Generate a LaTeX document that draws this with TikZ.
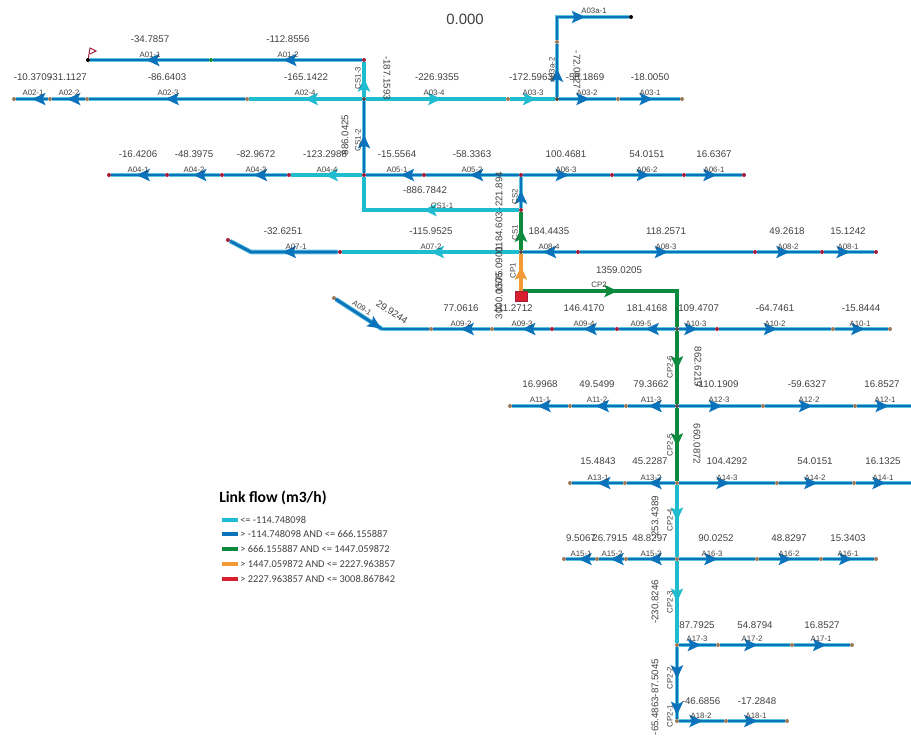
\documentclass[tikz,border=0pt]{standalone}
\usepackage{fontspec}
\setmainfont{Liberation Sans}
\newfontfamily\legendfont{Carlito}
\usetikzlibrary{arrows.meta,decorations.markings,backgrounds}
\definecolor{linkblue}{HTML}{0B72BC}
\definecolor{linkhalo}{HTML}{5CC4DC}
\definecolor{linkcyan}{HTML}{1FBCCF}
\definecolor{linkgreen}{HTML}{0E8A3F}
\definecolor{linkorange}{HTML}{F39A35}
\definecolor{linkred}{HTML}{D8202E}
\definecolor{jred}{HTML}{A31C3A}
\definecolor{jtan}{HTML}{9A7A58}
\definecolor{inktext}{HTML}{404040}
\tikzset{
  midarrow/.style={postaction={decorate,decoration={markings,mark=at position #1 with {\arrow{Stealth[length=10pt,width=9pt,inset=2pt]}}}}},
  bluelink/.style={color=linkblue,line width=2.1pt,preaction={draw,linkhalo,line width=3.4pt}},
  cyanlink/.style={color=linkcyan,line width=2.7pt},
  greenlink/.style={color=linkgreen,line width=2.6pt},
  orangelink/.style={color=linkorange,line width=2.7pt},
  redlink/.style={color=linkred,line width=2.7pt},
  jn/.style={circle,fill=#1,inner sep=0pt,minimum size=3pt},
  jn/.default=jred,
  valtext/.style={text=inktext,inner sep=0pt,font=\fontsize{7.3}{8}\selectfont},
  labtext/.style={text=inktext,inner sep=0pt,font=\fontsize{5.9}{7}\selectfont},
  legtext/.style={text=inktext,inner sep=0pt,anchor=west,font=\legendfont\fontsize{7.8}{9}\selectfont}
}
\begin{document}
\begin{tikzpicture}[x=.75pt,y=-.75pt]
  \useasboundingbox (0,0) rectangle (911,736);
  \node[jn=black] (p1a) at (88,60) {};
  \node[jn=linkgreen] (p1b) at (211,60) {};
  \node[jn] (p1c) at (364,60) {};
  \node[jn=jtan] (p2a) at (14,99) {};
  \node[jn=jtan] (p2b) at (50,99) {};
  \node[jn=jtan] (p2c) at (87,99) {};
  \node[jn=jtan] (p2d) at (247,99) {};
  \node[jn=black!70] (p2e) at (364,99) {};
  \node[jn=jtan] (p2f) at (508,99) {};
  \node[jn=black!70] (p2g) at (557,99) {};
  \node[jn=jtan] (p2h) at (618,99) {};
  \node[jn=jtan] (p2i) at (682,99) {};
  \node[jn=jtan] (q1) at (557,42) {};
  \node[jn=black] (q3) at (631,17) {};
  \node[jn] (p4a) at (109,175) {};
  \node[jn] (p4b) at (167,175) {};
  \node[jn] (p4c) at (222,175) {};
  \node[jn] (p4d) at (289,175) {};
  \node[jn] (p4e) at (364,175) {};
  \node[jn] (p4f) at (424,175) {};
  \node[jn] (p4g) at (521,175) {};
  \node[jn] (p4h) at (612,175) {};
  \node[jn] (p4i) at (684,175) {};
  \node[jn] (p4j) at (744,175) {};
  \node[jn] (m) at (521,210) {};
  \node[jn] (p5a) at (228,240) {};
  \coordinate (c5) at (251,252);
  \node[jn] (p5b) at (340,252) {};
  \node[jn=black!70] (p5c) at (521,252) {};
  \node[jn] (p5d) at (578,252) {};
  \node[jn] (p5e) at (755,252) {};
  \node[jn] (p5f) at (822,252) {};
  \node[jn] (p5g) at (876,252) {};
  \node[draw=jred,fill=linkred,inner sep=0pt,minimum width=9pt,minimum height=7.5pt] (src) at (521,296) {};
  \coordinate (srcout) at (523,291);
  \node[jn=jtan] (p9a) at (334,298) {};
  \coordinate (c9) at (382,329);
  \node[jn=jtan] (p9b) at (431,329) {};
  \node[jn=jtan] (p9c) at (492,329) {};
  \node[jn] (p9d) at (552,329) {};
  \node[jn] (p9e) at (617,329) {};
  \node[jn=black!70] (p9g) at (677,329) {};
  \node[jn] (p9h) at (717,329) {};
  \node[jn=jtan] (p9i) at (833,329) {};
  \node[jn=jtan] (p9j) at (890,329) {};
  \node[jn=jtan] (p11a) at (510,406) {};
  \node[jn=jtan] (p11b) at (570,406) {};
  \node[jn=jtan] (p11c) at (626,406) {};
  \node[jn=black!70] (p11d) at (677,406) {};
  \node[jn=jtan] (p11e) at (763,406) {};
  \node[jn=jtan] (p11f) at (855,406) {};
  \coordinate (p11g) at (911,406);
  \node[jn=jtan] (p13a) at (570,483) {};
  \node[jn=jtan] (p13b) at (625,483) {};
  \node[jn=jtan] (p13c) at (677,483) {};
  \node[jn=jtan] (p13d) at (777,483) {};
  \node[jn=jtan] (p13e) at (854,483) {};
  \coordinate (p13f) at (911,483);
  \node[jn=jtan] (p15a) at (564,559) {};
  \node[jn=jtan] (p15b) at (597,559) {};
  \node[jn=jtan] (p15c) at (626,559) {};
  \node[jn=jtan] (p15d) at (677,559) {};
  \node[jn=jtan] (p15e) at (757,559) {};
  \node[jn=jtan] (p15f) at (821,559) {};
  \node[jn=jtan] (p15g) at (876,559) {};
  \node[jn=jtan] (p17a) at (677,645) {};
  \node[jn=jtan] (p17b) at (718,645) {};
  \node[jn=jtan] (p17c) at (792,645) {};
  \node[jn=jtan] (p17d) at (852,645) {};
  \coordinate (r) at (677,695);
  \node[jn=jtan] (p18a) at (677,721) {};
  \node[jn=jtan] (p18b) at (726,721) {};
  \node[jn=jtan] (p18c) at (787,721) {};
  \begin{scope}[on background layer]
    \draw[bluelink,midarrow=.53] (p1c) -- (p1b);
    \draw[bluelink,midarrow=.53] (p1b) -- (p1a);
    \draw[bluelink,midarrow=.5] (p2b) -- (p2a);
    \draw[bluelink,midarrow=.55] (p2c) -- (p2b);
    \draw[bluelink,midarrow=.51] (p2d) -- (p2c);
    \draw[cyanlink,midarrow=.51] (p2e) -- (p2d);
    \draw[cyanlink,midarrow=.54] (p2e) -- (p2f);
    \draw[cyanlink,midarrow=.59] (p2f) -- (p2g);
    \draw[bluelink,midarrow=.54] (p2g) -- (p2h);
    \draw[bluelink,midarrow=.55] (p2h) -- (p2i);
    \draw[bluelink,midarrow=.54] (p2g) -- (q1);
    \draw[bluelink,midarrow=.54] (q1) |- (q3);
    \draw[cyanlink,midarrow=.54] (p2e) -- (p1c);
    \draw[bluelink,midarrow=.53] (p4e) -- (p2e);
    \draw[cyanlink,midarrow=.51] (m) -| (p4e);
    \draw[bluelink,midarrow=.57] (m) -- (p4g);
    \draw[bluelink,midarrow=.53] (p4b) -- (p4a);
    \draw[bluelink,midarrow=.53] (p4c) -- (p4b);
    \draw[bluelink,midarrow=.53] (p4d) -- (p4c);
    \draw[cyanlink,midarrow=.53] (p4e) -- (p4d);
    \draw[bluelink,midarrow=.38] (p4f) -- (p4e);
    \draw[bluelink,midarrow=.53] (p4g) -- (p4f);
    \draw[bluelink,midarrow=.53] (p4g) -- (p4h);
    \draw[bluelink,midarrow=.53] (p4h) -- (p4i);
    \draw[bluelink,midarrow=.55] (p4i) -- (p4j);
    \draw[greenlink,midarrow=.57] (p5c) -- (m);
    \draw[orangelink,midarrow=.67] (src) -- (p5c);
    \draw[greenlink,midarrow=.5] (srcout) -| (p9g);
    \draw[bluelink,midarrow=.5,line join=round] (p5b) -- (c5) -- (p5a);
    \draw[cyanlink,midarrow=.5] (p5c) -- (p5b);
    \draw[bluelink,midarrow=.63] (p5d) -- (p5c);
    \draw[bluelink,midarrow=.51] (p5d) -- (p5e);
    \draw[bluelink,midarrow=.52] (p5e) -- (p5f);
    \draw[bluelink,midarrow=.52] (p5f) -- (p5g);
    \draw[bluelink,midarrow=.98,line cap=round] (p9a) -- (c9);
    \draw[bluelink,line cap=round] (p9b) -- (c9);
    \draw[bluelink,midarrow=.52] (p9c) -- (p9b);
    \draw[bluelink,midarrow=.5] (p9d) -- (p9c);
    \draw[bluelink,midarrow=.52] (p9e) -- (p9d);
    \draw[bluelink,midarrow=.53] (p9g) -- (p9e);
    \draw[bluelink,midarrow=.52] (p9g) -- (p9h);
    \draw[bluelink,midarrow=.52] (p9h) -- (p9i);
    \draw[bluelink,midarrow=.56] (p9i) -- (p9j);
    \draw[bluelink,midarrow=.55] (p11b) -- (p11a);
    \draw[bluelink,midarrow=.55] (p11c) -- (p11b);
    \draw[bluelink,midarrow=.57] (p11d) -- (p11c);
    \draw[bluelink,midarrow=.53] (p11d) -- (p11e);
    \draw[bluelink,midarrow=.54] (p11e) -- (p11f);
    \draw[bluelink,midarrow=.59] (p11f) -- (p11g);
    \draw[bluelink,midarrow=.51] (p13b) -- (p13a);
    \draw[bluelink,midarrow=.56] (p13c) -- (p13b);
    \draw[bluelink,midarrow=.53] (p13c) -- (p13d);
    \draw[bluelink,midarrow=.53] (p13d) -- (p13e);
    \draw[bluelink,midarrow=.54] (p13e) -- (p13f);
    \draw[bluelink,midarrow=.58] (p15b) -- (p15a);
    \draw[bluelink,midarrow=.55] (p15c) -- (p15b);
    \draw[bluelink,midarrow=.57] (p15d) -- (p15c);
    \draw[bluelink,midarrow=.51] (p15d) -- (p15e);
    \draw[bluelink,midarrow=.55] (p15e) -- (p15f);
    \draw[bluelink,midarrow=.58] (p15f) -- (p15g);
    \draw[bluelink,midarrow=.6] (p17a) -- (p17b);
    \draw[bluelink,midarrow=.54] (p17b) -- (p17c);
    \draw[bluelink,midarrow=.58] (p17c) -- (p17d);
    \draw[bluelink,midarrow=.53] (p18a) -- (p18b);
    \draw[bluelink,midarrow=.52] (p18b) -- (p18c);
    \draw[greenlink,midarrow=.53] (p9g) -- (p11d);
    \draw[greenlink,midarrow=.53] (p11d) -- (p13c);
    \draw[cyanlink,midarrow=.5] (p13c) -- (p15d);
    \draw[cyanlink,midarrow=.5] (p15d) -- (p17a);
    \draw[bluelink,midarrow=.66] (p17a) -- (r);
    \draw[bluelink,midarrow=.85] (r) -- (p18a);
  \end{scope}
  \coordinate (flagtop) at (90,48);
  \coordinate (flagtip) at (96,51);
  \coordinate (flagfoot) at (90,54);
  \draw[jred,line width=.7pt] (p1a) -- (flagtop) -- (flagtip) -- (flagfoot);
  \node[text=inktext,inner sep=0pt,font=\fontsize{11.2}{13}\selectfont] (clock) at (465,19) {0.000};
  \node[valtext] (v101) at (150,39) {-34.7857};
  \node[valtext] (v102) at (288,39) {-112.8556};
  \node[labtext] (a101) at (150,55) {A01-1};
  \node[labtext] (a102) at (288,55) {A01-2};
  \node[valtext] (v201) at (33,77) {-10.3709};
  \node[valtext] (v202) at (68,77) {-31.1127};
  \node[valtext] (v203) at (167,77) {-86.6403};
  \node[valtext] (v204) at (306,77) {-165.1422};
  \node[valtext] (v205) at (437,77) {-226.9355};
  \node[valtext] (v206) at (531,77) {-172.5963};
  \node[valtext] (v207) at (585,77) {-58.1869};
  \node[valtext] (v208) at (650,77) {-18.0050};
  \node[labtext] (a201) at (33,93) {A02-1};
  \node[labtext] (a202) at (69,93) {A02-2};
  \node[labtext] (a203) at (168,93) {A02-3};
  \node[labtext] (a204) at (305,93) {A02-4};
  \node[labtext] (a205) at (434,93) {A03-4};
  \node[labtext] (a206) at (533,93) {A03-3};
  \node[labtext] (a207) at (587,93) {A03-2};
  \node[labtext] (a208) at (650,93) {A03-1};
  \node[labtext] (a3a1) at (594,11) {A03a-1};
  \node[labtext,rotate=90] (a3a2) at (552,70) {A03a-2};
  \node[valtext,rotate=-90] (v3a2) at (577,70) {-72.0827};
  \node[labtext,rotate=90] (cs13) at (358,78) {CS1-3};
  \node[labtext,rotate=90] (cs12) at (358,140) {CS1-2};
  \node[valtext,rotate=-90] (v313) at (387,78) {-187.1593};
  \node[valtext,rotate=90] (v312) at (345,135) {886.0425};
  \node[valtext] (v401) at (138,154) {-16.4206};
  \node[valtext] (v402) at (194,154) {-48.3975};
  \node[valtext] (v403) at (256,154) {-82.9672};
  \node[valtext] (v404) at (325,154) {-123.2988};
  \node[valtext] (v405) at (397,154) {-15.5564};
  \node[valtext] (v406) at (472,154) {-58.3363};
  \node[valtext] (v407) at (566,154) {100.4681};
  \node[valtext] (v408) at (647,154) {54.0151};
  \node[valtext] (v409) at (714,154) {16.6367};
  \node[labtext] (a401) at (138,170) {A04-1};
  \node[labtext] (a402) at (194,170) {A04-2};
  \node[labtext] (a403) at (256,170) {A04-3};
  \node[labtext] (a404) at (327,170) {A04-4};
  \node[labtext] (a405) at (397,170) {A05-1};
  \node[labtext] (a406) at (472,170) {A05-2};
  \node[labtext] (a407) at (566,170) {A06-3};
  \node[labtext] (a408) at (647,170) {A06-2};
  \node[labtext] (a409) at (714,170) {A06-1};
  \node[valtext] (v311) at (425,190) {-886.7842};
  \node[labtext] (cs11) at (442,206) {CS1-1};
  \node[labtext,rotate=90] (cs2) at (515,197) {CS2};
  \node[labtext,rotate=90] (cs1) at (515,233) {CS1};
  \node[labtext,rotate=90] (cp1) at (513,271) {CP1};
  \node[valtext,rotate=90] (vcs2) at (499,191) {-221.894};
  \node[valtext,rotate=90] (vcs1) at (499,232) {1184.603};
  \node[valtext,rotate=90] (vcp1) at (499,270) {1575.0900};
  \node[valtext,rotate=90] (vsrc) at (499,296) {3000.0006};
  \node[valtext] (v501) at (283,231) {-32.6251};
  \node[valtext] (v502) at (431,231) {-115.9525};
  \node[valtext] (v503) at (549,231) {184.4435};
  \node[valtext] (v504) at (666,231) {118.2571};
  \node[valtext] (v505) at (787,231) {49.2618};
  \node[valtext] (v506) at (848,231) {15.1242};
  \node[labtext] (a501) at (296,247) {A07-1};
  \node[labtext] (a502) at (431,247) {A07-2};
  \node[labtext] (a503) at (549,247) {A08-4};
  \node[labtext] (a504) at (666,247) {A08-3};
  \node[labtext] (a505) at (788,247) {A08-2};
  \node[labtext] (a506) at (848,247) {A08-1};
  \node[valtext] (vcp2) at (619,270) {1359.0205};
  \node[labtext] (cp2) at (599,285) {CP2};
  \node[labtext,rotate=-33] (a901) at (362,308) {A09-1};
  \node[valtext,rotate=-33] (v901) at (392,312) {29.9244};
  \node[valtext] (v902) at (461,308) {77.0616};
  \node[valtext] (v903) at (513,308) {111.2712};
  \node[valtext] (v904) at (584,308) {146.4170};
  \node[valtext] (v905) at (647,308) {181.4168};
  \node[valtext] (v906) at (697,308) {-109.4707};
  \node[valtext] (v907) at (775,308) {-64.7461};
  \node[valtext] (v908) at (861,308) {-15.8444};
  \node[labtext] (a902) at (461,324) {A09-2};
  \node[labtext] (a903) at (522,324) {A09-3};
  \node[labtext] (a904) at (584,324) {A09-4};
  \node[labtext] (a905) at (641,324) {A09-5};
  \node[labtext] (a906) at (696,324) {A10-3};
  \node[labtext] (a907) at (775,324) {A10-2};
  \node[labtext] (a908) at (860,324) {A10-1};
  \node[labtext,rotate=90] (cp26) at (670,367) {CP2-6};
  \node[valtext,rotate=-90] (v26) at (698,367) {862.6219};
  \node[valtext] (v1101) at (540,384) {16.9968};
  \node[valtext] (v1102) at (597,384) {49.5499};
  \node[valtext] (v1103) at (651,384) {79.3662};
  \node[valtext] (v1104) at (717,384) {-110.1909};
  \node[valtext] (v1105) at (807,384) {-59.6327};
  \node[valtext] (v1106) at (882,384) {16.8527};
  \node[labtext] (a1101) at (540,400) {A11-1};
  \node[labtext] (a1102) at (597,400) {A11-2};
  \node[labtext] (a1103) at (651,400) {A11-3};
  \node[labtext] (a1104) at (719,400) {A12-3};
  \node[labtext] (a1105) at (809,400) {A12-2};
  \node[labtext] (a1106) at (885,400) {A12-1};
  \node[labtext,rotate=90] (cp25) at (670,445) {CP2-5};
  \node[valtext,rotate=-90] (v25) at (697,444) {660.0872};
  \node[valtext] (v1301) at (598,461) {15.4843};
  \node[valtext] (v1302) at (650,461) {45.2287};
  \node[valtext] (v1303) at (727,461) {104.4292};
  \node[valtext] (v1304) at (815,461) {54.0151};
  \node[valtext] (v1305) at (883,461) {16.1325};
  \node[labtext] (a1301) at (598,478) {A13-1};
  \node[labtext] (a1302) at (651,478) {A13-2};
  \node[labtext] (a1303) at (727,478) {A14-3};
  \node[labtext] (a1304) at (815,478) {A14-2};
  \node[labtext] (a1305) at (883,478) {A14-1};
  \node[labtext,rotate=90] (cp24) at (670,520) {CP2-4};
  \node[valtext,rotate=90] (v24) at (655,518) {-253.4389};
  \node[valtext] (v1501) at (581,538) {9.5067};
  \node[valtext] (v1502) at (610,538) {26.7915};
  \node[valtext] (v1503) at (650,538) {48.8297};
  \node[valtext] (v1504) at (716,538) {90.0252};
  \node[valtext] (v1505) at (789,538) {48.8297};
  \node[valtext] (v1506) at (848,538) {15.3403};
  \node[labtext] (a1501) at (581,554) {A15-1};
  \node[labtext] (a1502) at (612,554) {A15-2};
  \node[labtext] (a1503) at (651,554) {A15-3};
  \node[labtext] (a1504) at (712,554) {A16-3};
  \node[labtext] (a1505) at (789,554) {A16-2};
  \node[labtext] (a1506) at (848,554) {A16-1};
  \node[labtext,rotate=90] (cp23) at (670,602) {CP2-3};
  \node[valtext,rotate=90] (v23) at (655,602) {-230.8246};
  \node[valtext] (v1701) at (697,625) {87.7925};
  \node[valtext] (v1702) at (755,625) {54.8794};
  \node[valtext] (v1703) at (822,625) {16.8527};
  \node[labtext] (a1701) at (697,639) {A17-3};
  \node[labtext] (a1702) at (752,639) {A17-2};
  \node[labtext] (a1703) at (821,639) {A17-1};
  \node[labtext,rotate=90] (cp22) at (670,678) {CP2-2};
  \node[labtext,rotate=90] (cp21) at (670,716) {CP2-1};
  \node[valtext,rotate=90] (v22) at (655,678) {-87.5045};
  \node[valtext,rotate=90] (v21) at (655,716) {-65.4863};
  \node[valtext] (v1801) at (701,701) {-46.6856};
  \node[valtext] (v1802) at (757,701) {-17.2848};
  \node[labtext] (a1801) at (701,716) {A18-2};
  \node[labtext] (a1802) at (756,716) {A18-1};
  \node[inner sep=0pt,anchor=west,font=\legendfont\bfseries\fontsize{11.7}{13}\selectfont] (legtitle) at (219,498) {Link flow (m3/h)};
  \coordinate (lg1a) at (222,520); \coordinate (lg1b) at (238,520);
  \coordinate (lg2a) at (222,534); \coordinate (lg2b) at (238,534);
  \coordinate (lg3a) at (222,549); \coordinate (lg3b) at (238,549);
  \coordinate (lg4a) at (222,564); \coordinate (lg4b) at (238,564);
  \coordinate (lg5a) at (222,579); \coordinate (lg5b) at (238,579);
  \draw[cyanlink] (lg1a) -- (lg1b);
  \draw[color=linkblue,line width=2.7pt] (lg2a) -- (lg2b);
  \draw[greenlink] (lg3a) -- (lg3b);
  \draw[orangelink] (lg4a) -- (lg4b);
  \draw[redlink] (lg5a) -- (lg5b);
  \node[legtext] (leg1) at (240,520) {<= -114.748098};
  \node[legtext] (leg2) at (240,534) {> -114.748098 AND <= 666.155887};
  \node[legtext] (leg3) at (240,549) {> 666.155887 AND <= 1447.059872};
  \node[legtext] (leg4) at (240,564) {> 1447.059872 AND <= 2227.963857};
  \node[legtext] (leg5) at (240,579) {> 2227.963857 AND <= 3008.867842};
\end{tikzpicture}
\end{document}
